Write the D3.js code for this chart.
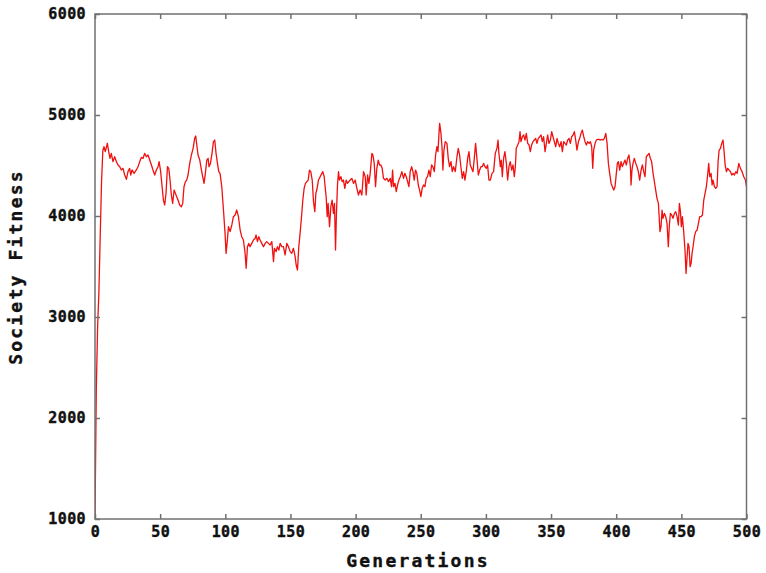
<!DOCTYPE html>
<html>
<head>
<meta charset="utf-8">
<script src="https://cdn.jsdelivr.net/npm/d3@7"></script>
<style>
  html, body { margin: 0; padding: 0; background: #fff; }
  svg { display: block; }
  .tick text { font-family: "DejaVu Sans Mono", monospace; font-weight: bold; font-size: 15px; fill: #111; stroke: #111; stroke-width: 0.4px; letter-spacing: 0.4px; }
  .axis-title { font-family: "DejaVu Sans Mono", monospace; font-weight: bold; font-size: 18px; fill: #111; stroke: #111; stroke-width: 0.4px; letter-spacing: 2.2px; }
</style>
</head>
<body>
<script>
// ---- data ----
const generations = [
  0,1,2,3,4,5,6,6.9,7.9,9.5,10.5,11.5,12.5,13.8,15.1,16.4,17.7,19.0,20.2,21.5,22.8,24.1,25.3,26.6,27.4,28.4,30.0,31.7,33.0,34.3,35.6,36.9,38.1,39.4,40.7,42.0,43.3,44.5,45.8,47.1,48.4,49.2,50.4,51.5,52.5,53.5,54.5,55.6,56.6,57.6,58.6,59.6,60.7,61.7,62.7,63.7,65.0,66.3,67.3,68.3,69.4,70.4,71.4,72.7,74.0,75.3,76.5,77.3,78.3,79.1,80.4,81.7,82.9,83.7,84.7,85.8,86.8,87.5,88.6,89.8,90.9,91.9,92.9,94.0,95.0,
  96.0,97.3,98.6,99.8,100.6,101.6,102.4,103.7,105.0,106.2,107.5,108.8,110.1,111.4,112.6,113.9,115.2,116.0,117.0,118.0,119.0,120.3,121.6,122.9,123.6,124.7,125.7,126.7,128.0,129.3,130.6,131.8,133.1,134.4,135.7,137.0,137.7,139.0,140.0,141.1,142.1,143.4,144.6,145.9,147.2,148.5,149.8,151.0,152.3,153.6,154.4,155.4,156.4,157.4,158.5,159.5,160.5,161.5,162.6,163.6,164.6,165.6,166.7,167.7,168.7,169.5,170.2,171.5,172.8,174.1,174.8,175.9,176.6,177.4,178.2,178.9,180.0,181.0,182.0,183.0,183.8,184.6,185.3,186.1,186.9,187.6,188.7,189.7,190.7,191.7,192.8,193.8,194.8,
  195.9,197.1,198.4,199.7,201.0,202.2,203.5,204.8,206.1,207.4,208.1,209.2,210.2,211.2,212.5,213.3,214.3,215.3,216.3,217.4,218.4,219.4,220.4,221.4,222.7,224.0,225.3,226.6,227.6,228.4,229.1,230.2,231.2,232.2,233.2,234.3,235.5,236.8,237.8,238.9,239.9,240.9,241.9,243.0,244.0,245.0,246.0,247.0,248.1,249.1,250.1,251.1,252.2,253.2,254.2,255.2,256.3,257.3,258.3,259.3,260.4,261.4,262.4,263.2,264.0,264.5,265.5,266.3,267.0,267.8,268.8,270.1,271.1,272.1,273.2,274.2,275.2,276.5,277.8,278.8,279.8,280.8,281.9,282.9,283.9,284.9,286.0,287.0,288.0,289.0,290.1,291.1,292.1,293.1,294.2,295.2,296.2,297.2,298.2,299.3,300.3,301.3,302.3,
  303.4,304.7,305.9,307.2,308.5,309.3,310.0,311.1,311.8,312.6,313.6,314.6,315.7,316.7,317.7,318.7,319.8,320.8,321.8,322.6,323.3,324.4,325.4,326.2,326.9,328.0,329.0,330.0,331.0,332.1,333.1,334.1,335.1,336.1,337.2,338.2,339.2,340.2,341.3,342.3,343.3,344.3,345.4,346.4,347.4,348.4,349.5,350.5,351.5,352.5,353.6,354.6,355.6,356.6,357.7,358.7,359.7,360.7,361.7,362.8,363.8,364.8,365.8,366.9,367.9,368.9,369.9,371.0,372.0,373.0,374.0,375.1,376.1,377.1,378.1,379.2,380.2,381.2,382.0,382.7,383.8,384.8,385.8,386.8,387.9,388.9,389.9,390.9,392.0,393.0,394.0,395.0,396.1,397.1,398.1,399.1,400.1,400.9,401.7,402.7,
  403.7,404.7,405.7,406.8,407.8,408.8,409.8,410.9,411.4,412.1,412.9,413.9,415.0,416.0,417.0,418.0,419.1,420.1,421.1,422.1,423.1,424.2,425.2,426.2,427.2,428.3,429.3,430.3,431.3,432.4,432.9,433.6,434.4,435.2,435.9,437.0,438.0,439.0,440.0,440.8,441.6,442.6,443.6,444.7,445.7,446.7,447.7,448.5,449.3,450.0,450.8,451.8,452.8,453.6,454.4,455.1,455.9,456.7,457.5,458.2,459.0,460.0,461.0,462.1,463.1,464.1,465.1,466.2,467.2,468.2,469.2,470.3,471.0,471.8,472.8,473.6,474.3,475.4,476.4,477.4,478.2,479.0,480.0,481.0,482.0,482.8,483.6,484.6,485.6,486.6,487.7,488.7,489.7,490.7,491.8,492.8,494.1,495.3,496.6,497.9,499.2,500
];
const fitness = [
  1020,2280,2900,3250,3800,4330,4650,4686,4637,4720,4637,4571,4620,4538,4587,4538,4505,4488,4456,4472,4406,4363,4439,4472,4406,4456,4422,4456,4488,4538,4581,4571,4620,4587,4604,4554,4505,4455,4406,4455,4488,4538,4439,4290,4158,4109,4224,4488,4472,4356,4208,4125,4257,4224,4191,4158,4109,4092,4125,4290,4340,4356,4406,4521,4604,4670,4769,4792,4686,4604,4554,4455,4373,4323,4422,4554,4571,4488,4521,4620,4736,4752,4620,4521,4439,
  4420,4290,4059,3828,3630,3762,3894,3845,3911,3993,4010,4059,3993,3861,3795,3762,3630,3482,3696,3729,3696,3729,3762,3779,3812,3746,3795,3762,3729,3696,3729,3746,3729,3713,3746,3548,3680,3647,3696,3663,3729,3696,3696,3614,3729,3696,3647,3630,3680,3597,3515,3465,3696,3828,3993,4158,4274,4323,4340,4356,4455,4439,4356,4142,4043,4224,4257,4356,4389,4422,4439,4389,4290,4191,3993,4125,3894,4092,4158,4026,4125,3663,4026,4307,4439,4356,4389,4340,4356,4274,4356,4323,4340,
  4356,4373,4323,4356,4274,4208,4257,4208,4439,4389,4208,4406,4323,4422,4620,4604,4521,4290,4472,4554,4505,4505,4472,4373,4356,4373,4340,4373,4290,4455,4290,4323,4241,4307,4356,4389,4439,4373,4422,4389,4340,4290,4439,4488,4439,4356,4455,4422,4307,4257,4191,4274,4307,4290,4373,4389,4455,4389,4505,4488,4439,4604,4686,4637,4818,4917,4818,4686,4455,4653,4736,4719,4571,4488,4538,4439,4488,4439,4587,4670,4604,4488,4373,4439,4356,4439,4571,4637,4505,4472,4439,4571,4719,4571,4406,4455,4488,4488,4521,4488,4472,4505,4356,
  4356,4422,4439,4620,4670,4752,4620,4488,4554,4389,4571,4637,4521,4356,4488,4538,4455,4505,4389,4488,4670,4703,4736,4835,4736,4785,4802,4752,4818,4719,4703,4637,4703,4736,4752,4769,4719,4769,4785,4802,4736,4785,4637,4719,4802,4719,4752,4835,4785,4736,4686,4769,4719,4686,4736,4637,4736,4719,4703,4752,4769,4719,4785,4802,4835,4752,4653,4736,4769,4818,4851,4785,4736,4703,4736,4719,4736,4686,4472,4653,4719,4752,4759,4759,4752,4759,4752,4769,4818,4719,4521,4422,4323,4290,4257,4290,4422,4521,4538,4455,
  4538,4488,4521,4554,4505,4571,4604,4488,4307,4455,4521,4571,4521,4488,4439,4356,4455,4505,4439,4389,4587,4604,4620,4571,4538,4422,4340,4257,4175,4125,4010,3845,3894,4059,3977,4026,3993,3927,3696,3911,4026,4010,3977,4026,4043,3993,3911,4125,4043,3894,3993,3845,3663,3432,3597,3729,3696,3498,3531,3630,3696,3795,3845,3861,3927,3993,3993,4010,4158,4224,4290,4422,4521,4389,4422,4307,4356,4290,4274,4290,4538,4653,4670,4719,4752,4637,4505,4439,4472,4455,4439,4406,4422,4406,4439,4422,4521,4472,4439,4389,4356,4290
];
const xTicks = [0, 50, 100, 150, 200, 250, 300, 350, 400, 450, 500];
const yTicks = [1000, 2000, 3000, 4000, 5000, 6000];
const xTitle = "Generations";
const yTitle = "Society Fitness";

if (generations.length !== fitness.length) {
  console.error("length mismatch", generations.length, fitness.length);
}

// ---- layout ----
const W = 766, H = 573;
const plotLeft = 95, plotRight = 746.5, plotTop = 14, plotBottom = 519;
const axisColor = "#707070";

const svg = d3.select("body").append("svg").attr("width", W).attr("height", H);

const x = d3.scaleLinear().domain([0, 500]).range([plotLeft, plotRight]);
const y = d3.scaleLinear().domain([1000, 6000]).range([plotBottom, plotTop]);

svg.append("clipPath").attr("id", "clip")
  .append("rect").attr("x", plotLeft).attr("y", plotTop).attr("width", plotRight - plotLeft).attr("height", plotBottom - plotTop);

// data line
const n = Math.min(generations.length, fitness.length);
const pts = d3.range(n).map(i => [generations[i], fitness[i]]);
svg.append("path")
  .datum(pts)
  .attr("clip-path", "url(#clip)")
  .attr("fill", "none")
  .attr("stroke", "#f01010")
  .attr("stroke-width", 1.3)
  .attr("stroke-linejoin", "round")
  .attr("d", d3.line().x(d => x(d[0])).y(d => y(d[1])));

function styleAxis(g) {
  g.select(".domain").remove();
  g.selectAll(".tick line").attr("stroke", axisColor).attr("stroke-width", 1.5);
}

// bottom axis
svg.append("g").attr("transform", `translate(0,${plotBottom})`)
  .call(d3.axisBottom(x).tickValues(xTicks).tickSizeInner(-5).tickSizeOuter(0).tickPadding(7).tickFormat(d3.format("d")))
  .call(styleAxis);
// left axis
svg.append("g").attr("transform", `translate(${plotLeft},0)`)
  .call(d3.axisLeft(y).tickValues(yTicks).tickSizeInner(-5).tickSizeOuter(0).tickPadding(9).tickFormat(d3.format("d")))
  .call(styleAxis);
// top mirror ticks
svg.append("g").attr("transform", `translate(0,${plotTop})`)
  .call(d3.axisTop(x).tickValues(xTicks).tickSizeInner(-5).tickSizeOuter(0).tickFormat(""))
  .call(styleAxis);
// right mirror ticks
svg.append("g").attr("transform", `translate(${plotRight},0)`)
  .call(d3.axisRight(y).tickValues(yTicks).tickSizeInner(-5).tickSizeOuter(0).tickFormat(""))
  .call(styleAxis);

// frame
svg.append("rect")
  .attr("x", plotLeft).attr("y", plotTop).attr("width", plotRight - plotLeft).attr("height", plotBottom - plotTop)
  .attr("fill", "none").attr("stroke", axisColor).attr("stroke-width", 1.5);

// titles
svg.append("text").attr("class", "axis-title")
  .attr("x", 418).attr("y", 567).attr("text-anchor", "middle").text(xTitle);
svg.append("text").attr("class", "axis-title")
  .attr("transform", "translate(22,267) rotate(-90)").attr("text-anchor", "middle").text(yTitle);
</script>
</body>
</html>
